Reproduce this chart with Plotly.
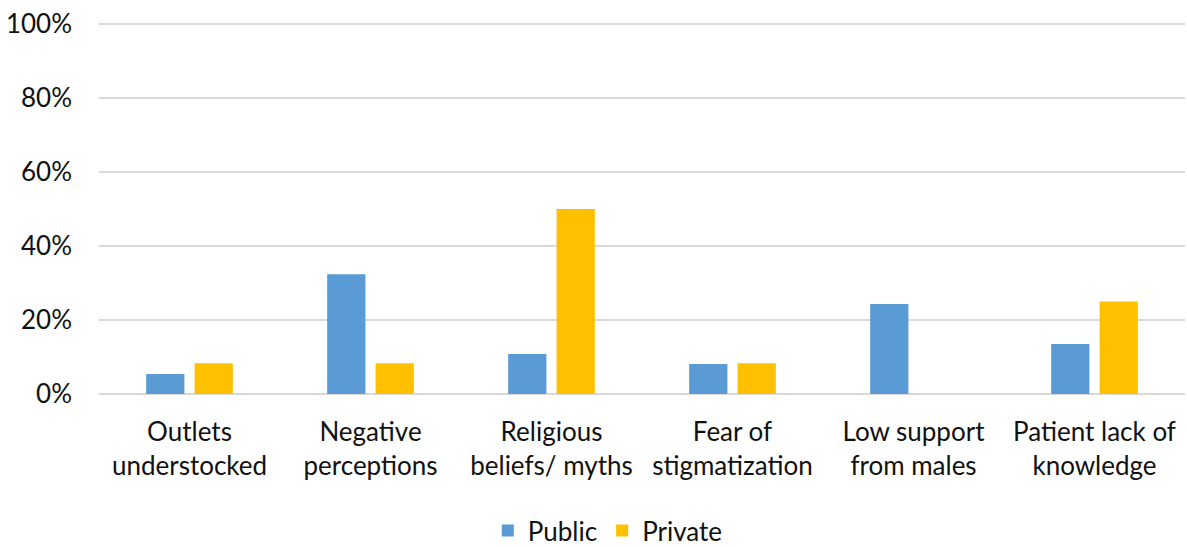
import plotly.graph_objects as go

categories = ["Outlets<br>understocked", "Negative<br>perceptions", "Religious<br>beliefs/ myths",
              "Fear of<br>stigmatization", "Low support<br>from males", "Patient lack of<br>knowledge"]
public = [0.054, 0.324, 0.108, 0.081, 0.243, 0.135]
private = [0.083, 0.083, 0.50, 0.083, 0.0, 0.25]
ytick_vals = [0, 0.2, 0.4, 0.6, 0.8, 1.0]
ytick_text = ["0%", "20%", "40%", "60%", "80%", "100%"]

FONT = "Lato"
FS = 26
fig = go.Figure()
fig.add_trace(go.Bar(name="Public", x=categories, y=public, marker_color="#5B9BD5",
                     marker_line_width=0))
fig.add_trace(go.Bar(name="Private", x=categories, y=private, marker_color="#FFC000",
                     marker_line_width=0))

fig.update_layout(
    width=1187, height=547,
    margin=dict(l=99, r=2, t=23, b=153, autoexpand=False),
    paper_bgcolor="white", plot_bgcolor="white",
    barmode="group", bargap=0.465, bargroupgap=0.21,
    font=dict(family=FONT, size=FS, color="#111111"),
    showlegend=True,
    legend=dict(orientation="h", x=0.358, xanchor="left", y=-0.368, yanchor="middle",
                font=dict(size=FS), itemwidth=30, traceorder="normal",
                tracegroupgap=0, bgcolor="rgba(0,0,0,0)", borderwidth=0),
)
fig.update_yaxes(range=[0, 1.003], tickvals=ytick_vals, ticktext=ytick_text,
                 showgrid=True, gridcolor="#d9d9d9", gridwidth=1.5,
                 zeroline=True, zerolinecolor="#d9d9d9", zerolinewidth=1.5,
                 showline=False, ticks="", ticklabelstandoff=26, automargin=False,
                 tickfont=dict(size=FS))
fig.update_xaxes(showgrid=False, showline=False, ticks="", ticklabelstandoff=20,
                 automargin=False, tickfont=dict(size=FS), tickangle=0)

fig.write_html("out.html", config={"displayModeBar": False},
               post_script="document.body.style.margin='0';document.body.style.overflow='hidden';")
